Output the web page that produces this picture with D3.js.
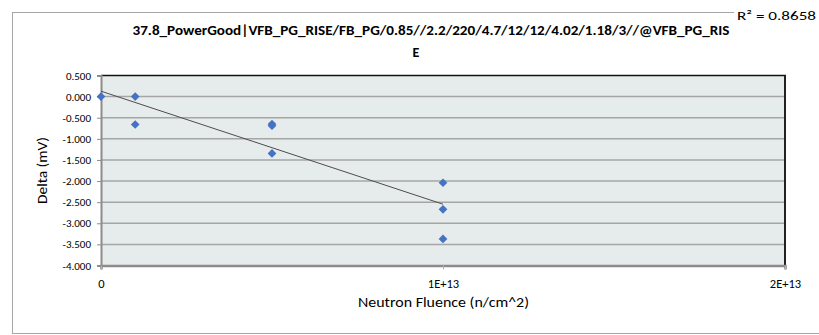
<!DOCTYPE html>
<html>
<head>
<meta charset="utf-8">
<script src="https://cdn.jsdelivr.net/npm/d3@7"></script>
<style>
html,body{margin:0;padding:0;background:#fff;}
svg{display:block;}
text{font-family:"Carlito","Lato","Liberation Sans",sans-serif;fill:#000;}
</style>
</head>
<body>
<svg id="chart" width="819" height="335"></svg>
<script>
// ---- data ----
const fluence = [0, 1e12, 1e12, 5e12, 5e12, 5e12, 1e13, 1e13, 1e13];
const delta   = [0.000, 0.000, -0.66, -0.65, -0.69, -1.345, -2.04, -2.67, -3.37];
const yTicks = [0.5, 0.0, -0.5, -1.0, -1.5, -2.0, -2.5, -3.0, -3.5, -4.0];
const xTicks = [0, 1e13, 2e13];
const xTickLabels = ["0", "1E+13", "2E+13"];
const titleLines = ["37.8_PowerGood|VFB_PG_RISE/FB_PG/0.85//2.2/220/4.7/12/12/4.02/1.18/3//@VFB_PG_RIS", "E"];
const r2Label = "R\u00B2 = 0.8658";
const xTitle = "Neutron Fluence (n/cm^2)";
const yTitle = "Delta (mV)";

const svg = d3.select("#chart");
const L = 101, R = 785, T = 75.5, B = 265.5;

// outer frame
svg.append("rect").attr("x", 12.5).attr("y", 12.5).attr("width", 830).attr("height", 321)
  .attr("fill", "#fff").attr("stroke", "#a6a6a6").attr("stroke-width", 1);

const x = d3.scaleLinear().domain([0, 2e13]).range([L, R]);
const y = d3.scaleLinear().domain([-4, 0.5]).range([B, T]);

// plot background
svg.append("rect").attr("x", L).attr("y", T).attr("width", R - L).attr("height", B - T)
  .attr("fill", "#e6ebeb");

// gridlines
svg.append("g").selectAll("line").data(yTicks.filter(d => d > -4 && d < 0.5)).join("line")
  .attr("x1", L).attr("x2", R).attr("y1", d => y(d)).attr("y2", d => y(d))
  .attr("stroke", "#a6a6a6").attr("stroke-width", 1.5);

// borders
svg.append("line").attr("x1", L).attr("x2", R + 1).attr("y1", T).attr("y2", T)
  .attr("stroke", "#111").attr("stroke-width", 1.5);
svg.append("line").attr("x1", R).attr("x2", R).attr("y1", T).attr("y2", B + 1)
  .attr("stroke", "#222").attr("stroke-width", 2);

// y axis
const yAxis = svg.append("g").attr("transform", `translate(${L},0)`)
  .call(d3.axisLeft(y).tickValues(yTicks).tickFormat(d3.format(".3f")).tickSize(4).tickPadding(6));
yAxis.select(".domain").attr("stroke", "#8c8c8c").attr("stroke-width", 2);
yAxis.selectAll(".tick line").attr("stroke", "#8c8c8c");
yAxis.selectAll(".tick text").attr("font-size", 11).attr("fill", "#000")
  .attr("font-family", "Carlito, Lato, 'Liberation Sans', sans-serif")
  .text(d => d3.format(".3f")(d).replace("\u2212", "-"));

// x axis
const xAxis = svg.append("g").attr("transform", `translate(0,${B})`)
  .call(d3.axisBottom(x).tickValues(xTicks).tickFormat((d, i) => xTickLabels[i]).tickSize(4).tickPadding(10));
xAxis.select(".domain").attr("stroke", "#8c8c8c").attr("stroke-width", 2.5);
xAxis.selectAll(".tick line").attr("stroke", "#b0b0b0");
xAxis.selectAll(".tick text").attr("font-size", 12.5).attr("fill", "#000")
  .attr("font-family", "Carlito, Lato, 'Liberation Sans', sans-serif");

// linear trendline (least squares over the data)
const n = fluence.length;
const mx = d3.mean(fluence), my = d3.mean(delta);
let sxy = 0, sxx = 0;
for (let i = 0; i < n; i++) { sxy += (fluence[i] - mx) * (delta[i] - my); sxx += (fluence[i] - mx) ** 2; }
const slope = sxy / sxx, intercept = my - slope * mx;
const xMin = d3.min(fluence), xMax = d3.max(fluence);
svg.append("line")
  .attr("x1", x(xMin)).attr("y1", y(intercept + slope * xMin))
  .attr("x2", x(xMax)).attr("y2", y(intercept + slope * xMax))
  .attr("stroke", "#4d4d4d").attr("stroke-width", 1);

// markers
const diamond = d3.symbol().type(d3.symbolDiamond2).size(48);
svg.append("g").selectAll("path").data(fluence.map((f, i) => [f, delta[i]])).join("path")
  .attr("d", diamond)
  .attr("transform", d => `translate(${x(d[0])},${y(d[1])})`)
  .attr("fill", "#4472c4");

// title
const title = svg.append("text").attr("text-anchor", "middle")
  .attr("font-size", 14).attr("font-weight", "bold");
title.append("tspan").attr("x", 431).attr("y", 35).text(titleLines[0])
  .attr("textLength", 597).attr("lengthAdjust", "spacingAndGlyphs");
title.append("tspan").attr("x", 416).attr("y", 57).text(titleLines[1]);

// R² label
svg.append("rect").attr("x", 734).attr("y", 5).attr("width", 85).attr("height", 18).attr("fill", "#fff");
svg.append("text").attr("x", 737).attr("y", 20).attr("font-size", 12.5)
  .attr("textLength", 79).attr("lengthAdjust", "spacingAndGlyphs").text(r2Label);

// axis titles
svg.append("text").attr("x", 443.5).attr("y", 307).attr("text-anchor", "middle")
  .attr("font-size", 15).attr("textLength", 171).attr("lengthAdjust", "spacingAndGlyphs").text(xTitle);
svg.append("text").attr("transform", `translate(47,${(T + B) / 2}) rotate(-90)`)
  .attr("text-anchor", "middle").attr("font-size", 14.5)
  .attr("textLength", 67).attr("lengthAdjust", "spacingAndGlyphs").text(yTitle);
</script>
</body>
</html>
